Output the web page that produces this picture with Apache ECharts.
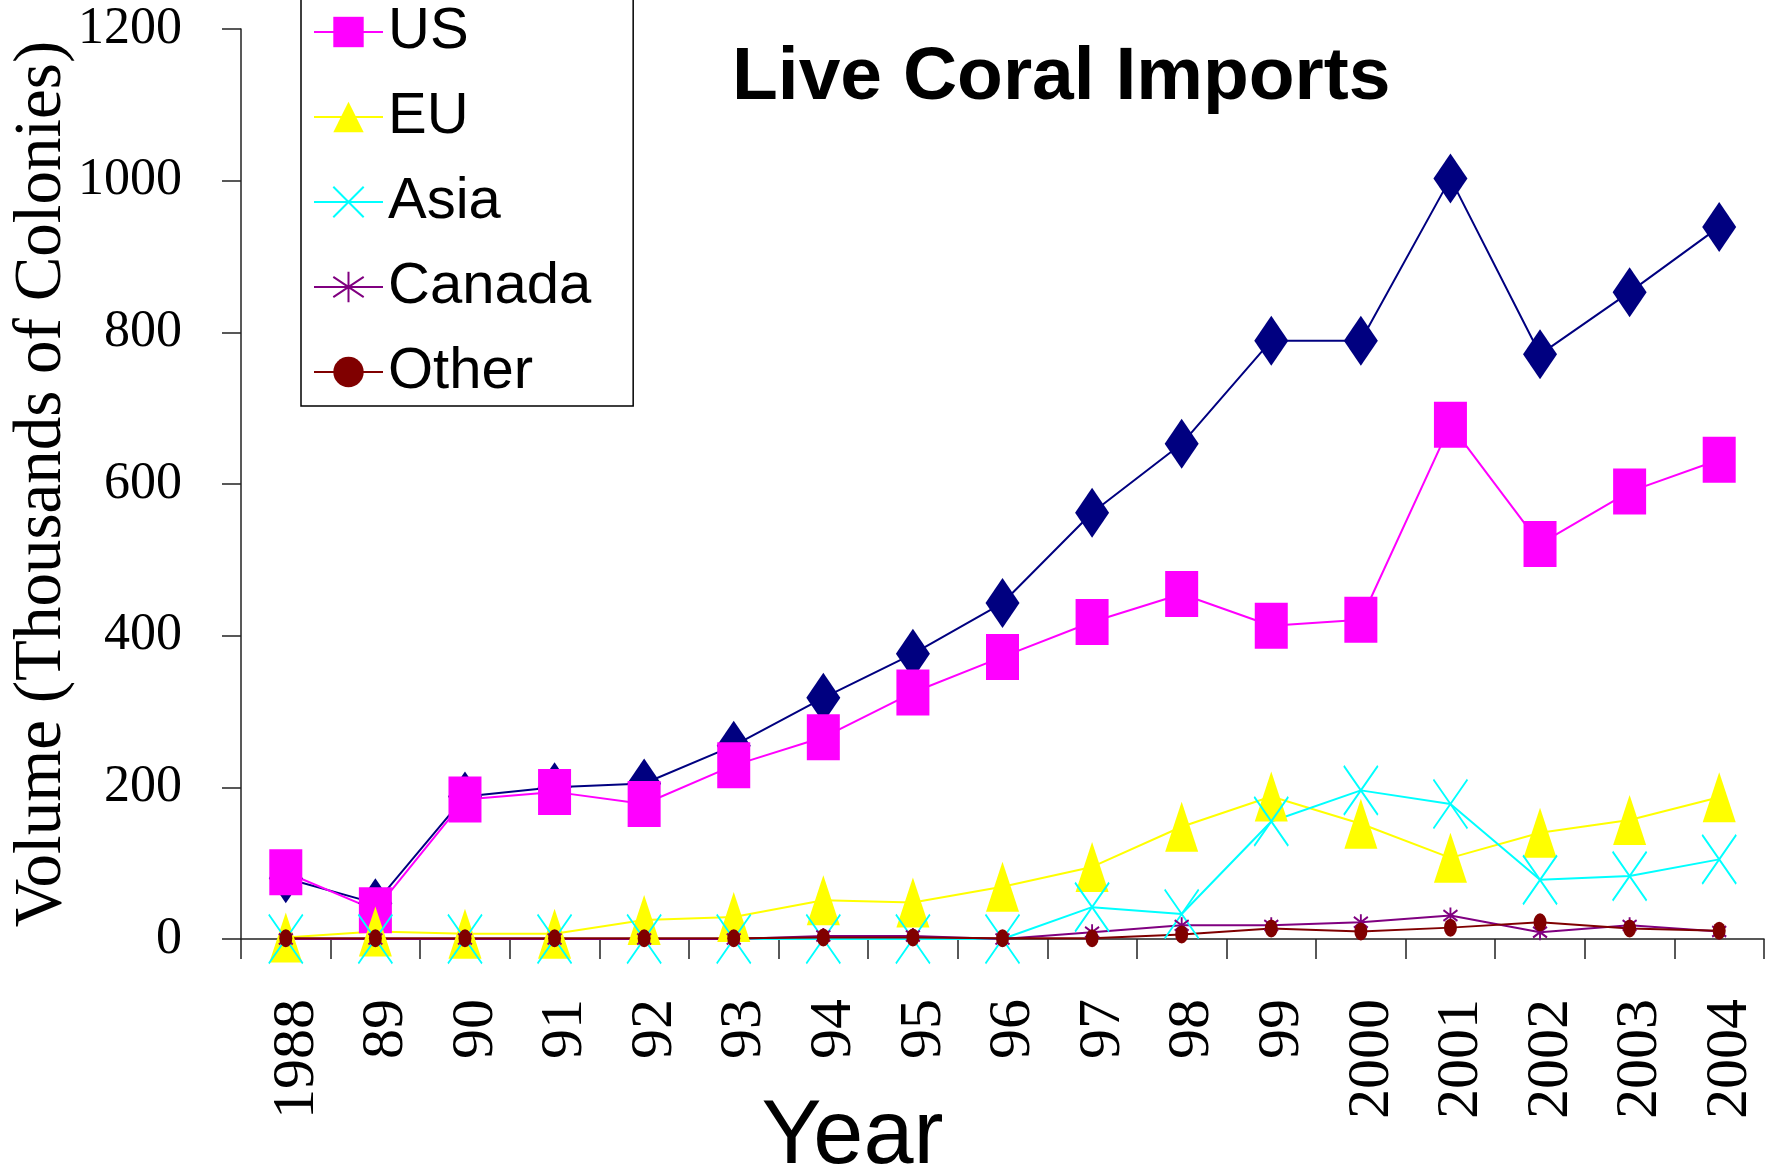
<!DOCTYPE html>
<html>
<head>
<meta charset="utf-8">
<script src="https://cdn.jsdelivr.net/npm/echarts@6/dist/echarts.min.js"></script>
<style>
html,body{margin:0;padding:0;background:#fff;}
#chart{width:1772px;height:1173px;}
</style>
</head>
<body>
<div id="chart"></div>
<script>
const years = ['1988','89','90','91','92','93','94','95','96','97','98','99','2000','2001','2002','2003','2004'];
const total  = [80, 47, 188, 200, 205, 255, 318, 376, 443, 562, 653, 789, 789, 1003, 771, 853, 939];
const us     = [88, 38, 184, 194, 178, 229, 266, 325, 372, 418, 455, 413, 421, 678, 521, 590, 632];
const eu     = [2, 10, 7, 7, 25, 29, 51, 48, 69, 95, 148, 188, 152, 107, 140, 157, 187];
const asia   = [0, 0, 0, 0, 0, 0, 0, 0, 0, 42, 33, 155, 196, 178, 78, 83, 105];
const canada = [0, 0, 0, 0, 0, 0, 4, 4, 0, 9, 18, 18, 22, 31, 9, 18, 10];
const other  = [1, 1, 1, 1, 1, 1, 2, 2, 1, 1, 6, 14, 10, 15, 22, 14, 11];
const yTicks = [0, 200, 400, 600, 800, 1000, 1200];

const serif = 'Liberation Serif';
const sans = 'Liberation Sans';

function mk(name, data, color, symbol, size, stroke) {
  return {
    name: name,
    type: 'line',
    data: data,
    symbol: symbol,
    symbolSize: size,
    showAllSymbol: true,
    lineStyle: { color: color, width: 2 },
    itemStyle: stroke ? { color: color, borderColor: color, borderWidth: 2 } : { color: color, borderWidth: 0 },
    emphasis: { disabled: true },
    animation: false
  };
}

const chart = echarts.init(document.getElementById('chart'));
chart.setOption({
  backgroundColor: '#fff',
  animation: false,
  title: {
    text: 'Live Coral Imports',
    left: 727,
    top: 36,
    textStyle: { fontFamily: sans, fontWeight: 'bold', fontSize: 75, lineHeight: 75, color: '#000' }
  },
  legend: {
    orient: 'vertical',
    left: 301,
    top: -88,
    padding: [5, 42, 4, 12],
    itemWidth: 69,
    itemHeight: 38,
    itemGap: 25,
    borderColor: '#000',
    borderWidth: 1.5,
    borderRadius: 0,
    backgroundColor: '#fff',
    selectedMode: false,
    textStyle: { fontFamily: sans, fontSize: 58, lineHeight: 60, color: '#000' },
    data: ['Total', 'US', 'EU', 'Asia', 'Canada', 'Other']
  },
  grid: { left: 241, right: 8, top: 29, bottom: 234, containLabel: false, outerBoundsMode: 'none' },
  xAxis: {
    type: 'category',
    data: years,
    boundaryGap: true,
    name: 'Year',
    nameLocation: 'middle',
    nameGap: 154,
    nameMoveOverlap: false,
    nameTextStyle: { fontFamily: sans, fontSize: 90, color: '#000', padding: [0, 300, 0, 0] },
    axisLine: { show: true, onZero: false, lineStyle: { color: '#222', width: 1.5 } },
    axisTick: { show: true, interval: 0, alignWithLabel: false, length: 20, lineStyle: { color: '#222', width: 1.5 } },
    axisLabel: { interval: 0, rotate: 90, margin: 60, fontFamily: serif, fontSize: 60, color: '#000', verticalAlign: 'top', lineHeight: 22 },
    splitLine: { show: false }
  },
  yAxis: {
    type: 'value',
    min: 0,
    max: 1200,
    interval: 200,
    name: 'Volume (Thousands of Colonies)',
    nameLocation: 'middle',
    nameGap: 165,
    nameMoveOverlap: false,
    nameTextStyle: { fontFamily: serif, fontSize: 67, color: '#000' },
    axisLine: { show: true, lineStyle: { color: '#222', width: 1.5 } },
    axisTick: { show: true, length: 19, lineStyle: { color: '#222', width: 1.5 } },
    axisLabel: {
      margin: 59, fontFamily: serif, fontSize: 52, color: '#000',
      formatter: function (v) { return yTicks.indexOf(v) >= 0 ? String(v) : ''; }
    },
    splitLine: { show: false }
  },
  series: [
    mk('Total', total, '#000080', 'diamond', [34, 50], false),
    mk('US', us, '#ff00ff', 'rect', [33, 46], false),
    mk('EU', eu, '#ffff00', 'triangle', [33, 50], false),
    mk('Asia', asia, '#00ffff', 'path://M0,0L10,14M10,0L0,14', [34, 49], true),
    mk('Canada', canada, '#800080', 'path://M5,0L5,12M0,2L10,10M10,2L0,10', [14, 16], true),
    mk('Other', other, '#800000', 'circle', [13, 18], false)
  ]
});
</script>
</body>
</html>
